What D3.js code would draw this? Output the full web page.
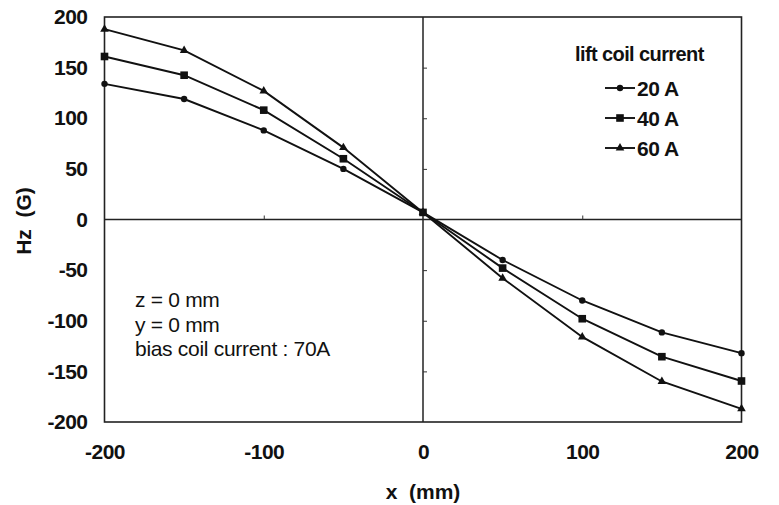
<!DOCTYPE html>
<html><head><meta charset="utf-8">
<script src="https://cdn.jsdelivr.net/npm/d3@7"></script>
<style>body{margin:0;background:#fff}svg{display:block}text{font-family:"Liberation Sans",Arial,sans-serif;fill:#111}</style>
</head><body><svg id="c" width="779" height="505"></svg>
<script>
const xs = [-200, -150, -100, -50, 0, 50, 100, 150, 200];
const s20 = [134, 119, 88, 50, 7, -40, -80, -111.5, -132];
const s40 = [161, 142.5, 108, 60, 7, -48, -98, -135.5, -159.5];
const s60 = [188, 167, 127, 71, 7, -58, -116, -160, -187];
const seriesNames = ["20 A", "40 A", "60 A"];
const markers = ["circle", "square", "triangle"];
const xTicks = [-200, -100, 0, 100, 200];
const yTicks = [200, 150, 100, 50, 0, -50, -100, -150, -200];
const notes = ["z = 0 mm", "y = 0 mm", "bias coil current : 70A"];

const svg = d3.select("#c");
const L = 104.5, R = 741.5, T = 17, B = 422;
const x = d3.scaleLinear().domain([-200, 200]).range([L, R]);
const y = d3.scaleLinear().domain([-200, 200]).range([B, T]);
const FS = 21;
const fmt = d => String(d);

// frame
svg.append("rect").attr("x", L).attr("y", T).attr("width", R - L).attr("height", B - T)
  .attr("fill", "none").attr("stroke", "#222").attr("stroke-width", 1.6);
// zero lines
svg.append("line").attr("x1", L).attr("x2", R).attr("y1", y(0)).attr("y2", y(0)).attr("stroke", "#222").attr("stroke-width", 1.5);
svg.append("line").attr("x1", x(0)).attr("x2", x(0)).attr("y1", T).attr("y2", B).attr("stroke", "#222").attr("stroke-width", 1.5);

// axes (labels via d3 axis)
const yAxis = svg.append("g").attr("transform", `translate(${L},0)`)
  .call(d3.axisLeft(y).tickValues(yTicks).tickSize(0).tickPadding(17).tickFormat(fmt));
const xAxis = svg.append("g").attr("transform", `translate(0,${B})`)
  .call(d3.axisBottom(x).tickValues(xTicks).tickSize(0).tickPadding(22).tickFormat(fmt));
[yAxis, xAxis].forEach(g => {
  g.select(".domain").remove();
  g.selectAll("text").attr("font-size", FS).attr("font-family", "Liberation Sans, Arial, sans-serif").attr("fill", "#111").attr("font-weight", "bold").style("letter-spacing", "-0.5px");
});

// small ticks on zero lines
const zx = svg.append("g").attr("transform", `translate(0,${y(0)})`)
  .call(d3.axisTop(x).tickValues([-100, 100]).tickSize(4).tickFormat(""));
zx.select(".domain").remove(); zx.selectAll("line").attr("stroke", "#333");
const zy = svg.append("g").attr("transform", `translate(${x(0)},0)`)
  .call(d3.axisRight(y).tickValues([150, 100, 50, -50, -100, -150]).tickSize(4).tickFormat(""));
zy.select(".domain").remove(); zy.selectAll("line").attr("stroke", "#333");

// axis titles
svg.append("text").attr("x", x(0)).attr("y", 499).attr("text-anchor", "middle")
  .attr("font-size", FS).attr("font-weight", "bold").style("white-space", "pre").text("x  (mm)");
svg.append("text").attr("transform", `translate(31,${221}) rotate(-90)`).attr("text-anchor", "middle")
  .attr("font-size", FS).attr("font-weight", "bold").style("white-space", "pre").text("Hz  (G)");

// series
const data = [s20, s40, s60];
const line = d3.line().x((d, i) => x(xs[i])).y(d => y(d));
function drawMarker(g, type, cx, cy) {
  if (type === "circle") g.append("circle").attr("cx", cx).attr("cy", cy).attr("r", 3.2).attr("fill", "#111");
  else if (type === "square") g.append("rect").attr("x", cx - 3.8).attr("y", cy - 3.8).attr("width", 7.6).attr("height", 7.6).attr("fill", "#111");
  else g.append("path").attr("d", d3.symbol().type(d3.symbolTriangle).size(32)()).attr("transform", `translate(${cx},${cy})`).attr("fill", "#111");
}
data.forEach((s, k) => {
  svg.append("path").datum(s).attr("d", line).attr("fill", "none").attr("stroke", "#111").attr("stroke-width", 1.9);
  const g = svg.append("g");
  s.forEach((v, i) => drawMarker(g, markers[k], x(xs[i]), y(v)));
});

// legend
svg.append("text").attr("x", 575).attr("y", 61).attr("font-size", 20).attr("font-weight", "bold").style("letter-spacing", "-0.6px").text("lift coil current");
seriesNames.forEach((n, k) => {
  const cy = 88 + k * 30;
  svg.append("line").attr("x1", 605).attr("x2", 635).attr("y1", cy).attr("y2", cy).attr("stroke", "#111").attr("stroke-width", 1.9);
  drawMarker(svg.append("g"), markers[k], 620, cy);
  svg.append("text").attr("x", 637).attr("y", cy + 7.5).attr("font-size", FS).attr("font-weight", "bold").style("letter-spacing", "-0.5px").text(n);
});

// notes
notes.forEach((t, i) => {
  svg.append("text").attr("x", 135).attr("y", 307 + i * 24.5).attr("font-size", FS).style("letter-spacing", "-0.3px").text(t);
});
</script></body></html>
